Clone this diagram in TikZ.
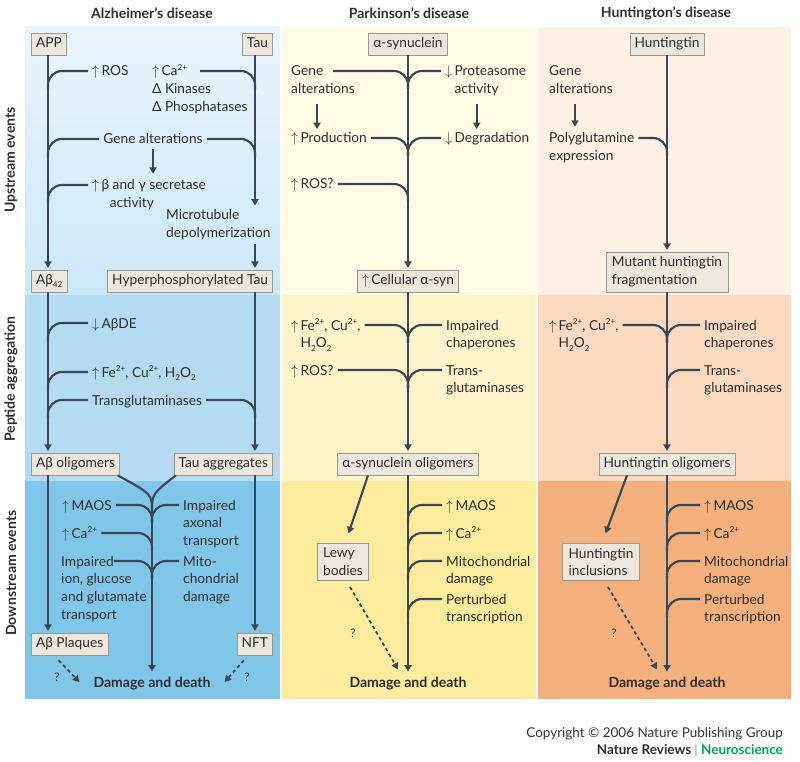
\documentclass[tikz,border=0pt]{standalone}
\usepackage{fontspec}
\setmainfont{Lato}
\usetikzlibrary{arrows.meta,calc,positioning}
\definecolor{inkline}{HTML}{3A4856}
\definecolor{inktext}{HTML}{2E2E2E}
\definecolor{boxfill}{HTML}{ECE7DE}
\definecolor{boxedge}{HTML}{9C978F}
\definecolor{adtop}{HTML}{EAF4FB}
\definecolor{adbot}{HTML}{CDE7F6}
\definecolor{adpep}{HTML}{B4DBF0}
\definecolor{addown}{HTML}{80C6E8}
\definecolor{pdup}{HTML}{FFFBE6}
\definecolor{pdpep}{HTML}{FEF4CA}
\definecolor{pddown}{HTML}{FBEB9C}
\definecolor{hdup}{HTML}{FDF0E5}
\definecolor{hdpep}{HTML}{FAD9C0}
\definecolor{hddown}{HTML}{F4B07C}
\definecolor{nrgreen}{HTML}{00A15B}
\newcommand{\upar}{$\uparrow$\,}
\newcommand{\dnar}{$\downarrow$\,}
\newcommand{\sps}[1]{\raisebox{0.8ex}{\fontsize{7}{7}\selectfont #1}}
\newcommand{\sbs}[1]{\raisebox{-0.45ex}{\fontsize{7}{7}\selectfont #1}}
\newcommand{\cat}{Ca\sps{2+}}
\newcommand{\feions}{Fe\sps{2+}, Cu\sps{2+},}
\newcommand{\hoo}{H\sbs{2}O\sbs{2}}
% stacked lines, baseline on the first one
\newcommand{\lns}[1]{\begin{tabular}[t]{@{}l@{}}#1\end{tabular}}
% side branches that bend down into a main line
\newcommand{\brW}[2]{\draw[br] ($(#1.base west)+(-4,-5)$) coordinate (bs) -| ($(#2 |- bs)+(0,18)$);}
\newcommand{\brE}[2]{\draw[br] ($(#1.base east)+(4,-5)$) coordinate (bs) -| ($(#2 |- bs)+(0,18)$);}
\newcommand{\brX}[3]{\draw[br] ($(#1.base west)+(#2,-5)$) coordinate (bs) -| ($(#3 |- bs)+(0,18)$);}

\begin{document}
\begin{tikzpicture}[x=0.03cm,y=-0.03cm,
  every node/.style={font=\fontsize{11.7}{15.3}\selectfont,text=inktext},
  lbl/.style={anchor=base west,inner sep=0pt},
  box/.style={draw=boxedge,fill=boxfill,line width=0.6pt,inner xsep=4pt,inner ysep=0pt,text height=9pt,text depth=3pt,minimum height=0.66cm},
  box2/.style={draw=boxedge,fill=boxfill,line width=0.6pt,inner xsep=5pt,inner ysep=4pt,align=left},
  hd/.style={font=\fontsize{12}{14}\selectfont\bfseries},
  dd/.style={font=\fontsize{12}{14}\selectfont\bfseries},
  qm/.style={font=\fontsize{10}{12}\selectfont},
  ln/.style={draw=inkline,line width=1.8pt},
  arr/.style={ln,-{Triangle[length=5.5pt,width=6pt]},shorten >=1.5pt},
  varr/.style={arr,shorten <=4pt,shorten >=3pt},
  br/.style={ln,rounded corners=0.42cm},
  dsh/.style={ln,line width=1.5pt,dash pattern=on 3pt off 2.5pt,-{Triangle[length=5.5pt,width=6pt]}}]
\useasboundingbox (0,0) rectangle (800,762);
% panels
\shade[top color=adtop,bottom color=adbot] (25,27) rectangle (280,295);
\fill[adpep] (25,295) rectangle (280,481);
\fill[addown] (25,481) rectangle (280,699);
\fill[pdup] (282,27) rectangle (536,295);
\fill[pdpep] (282,295) rectangle (536,481);
\fill[pddown] (282,481) rectangle (536,699);
\fill[hdup] (538,27) rectangle (791,295);
\fill[hdpep] (538,295) rectangle (791,481);
\fill[hddown] (538,481) rectangle (791,699);
% main lines
\coordinate (adL) at (48,0);
\coordinate (adR) at (255,0);
\coordinate (adM) at (152,0);
\coordinate (pdM) at (408,0);
\coordinate (hdM) at (667,0);
% headings
\node[hd] (hAD) at (152,13) {Alzheimer’s disease};
\node[hd] (hPD) at (409,13) {Parkinson’s disease};
\node[hd] (hHD) at (666,13) {Huntington’s disease};
\node[hd,rotate=90] (rUp) at (11,160) {Upstream events};
\node[hd,rotate=90] (rPep) at (11,379) {Peptide aggregation};
\node[hd,rotate=90] (rDown) at (11,573) {Downstream events};

% Alzheimer's
\node[box,anchor=west] (app) at (31,44) {APP};
\node[box,anchor=east] (tau) at (273,44) {Tau};
\node[lbl] (aros) at (92,76) {\upar ROS};
\node[lbl] (acal) at (152,76) {\lns{\upar \cat\\Δ Kinases\\Δ Phosphatases}};
\node[lbl,anchor=base] (agene) at (153,144) {Gene alterations};
\node[lbl] (asec) at (92,190) {\lns{\upar β and γ secretase\\\hspace{15pt}activity}};
\node[lbl] (amt) at (166,220) {\lns{Microtubule\\depolymerization}};
\node[box,anchor=west] (ab42) at (31,281) {Aβ\sbs{42}};
\node[box,anchor=east] (ptau) at (273,281) {Hyperphosphorylated Tau};
\node[lbl] (aade) at (92,328) {\dnar AβDE};
\node[lbl] (afe) at (92,377) {\upar \feions\ \hoo};
\node[lbl] (atg) at (92,405) {Transglutaminases};
\node[box,anchor=west] (aoli) at (31,464) {Aβ oligomers};
\node[box,anchor=east] (tagg) at (273,464) {Tau aggregates};
\node[lbl] (amaos) at (62,510) {\upar MAOS};
\node[lbl] (aaxon) at (183,510) {\lns{Impaired\\axonal\\transport}};
\node[lbl] (aca) at (62,538) {\upar \cat};
\node[lbl] (aion) at (61,566) {\lns{Impaired\\ion, glucose\\and glutamate\\transport}};
\node[lbl] (amito) at (183,566) {\lns{Mito-\\chondrial\\damage}};
\node[box,anchor=west] (plaq) at (31,644) {Aβ Plaques};
\node[box,anchor=east] (nft) at (273,644) {NFT};
\node[dd] (add) at (152,684) {Damage and death};
\node[qm] (aq1) at (57,677) {?};
\node[qm] (aq2) at (247,677) {?};

\draw[arr] (app.south -| adL) -- (ab42.north -| adL);
\draw[arr] (tau.south -| adR) -- (amt.north -| adR);
\draw[arr] (amt.south -| adR) -- (ptau.north -| adR);
\brW{aros}{adL}
\brX{acal}{48}{adR}
\brW{agene}{adL}
\brE{agene}{adR}
\draw[varr] (agene.south) -- (agene.south |- asec.north);
\brW{asec}{adL}
\draw[arr] (ab42.south -| adL) -- (aoli.north -| adL);
\draw[arr] (ptau.south -| adR) -- (tagg.north -| adR);
\brW{aade}{adL}
\brW{afe}{adL}
\brW{atg}{adL}
\brE{atg}{adR}
\draw[arr] (aoli.south -| adL) -- (plaq.north -| adL);
\draw[arr] (tagg.south -| adR) -- (nft.north -| adR);
\coordinate (ayc) at (152,494);
\coordinate (ay) at (152,512);
\draw[ln] ([xshift=-2pt]aoli.south east) .. controls (ayc) .. (ay);
\draw[ln] ([xshift=2pt]tagg.south west) .. controls (ayc) .. (ay);
\draw[arr] (ay) -- (add.north);
\brE{amaos}{adM}
\brW{aaxon}{adM}
\brE{aca}{adM}
\brX{aion}{53}{adM}
\brW{amito}{adM}
\draw[dsh] ($(plaq.south)+(-11,5)$) -- ($(add.west)+(-10,-2)$);
\draw[dsh] ($(nft.south)+(-11,5)$) -- ($(add.east)+(10,-2)$);

% Parkinson's
\node[box] (asyn) at (408,44) {α-synuclein};
\node[lbl] (pgene) at (291,76) {\lns{Gene\\alterations}};
\node[lbl] (pprot) at (445,76) {\lns{\dnar Proteasome\\\phantom{\dnar}activity}};
\node[lbl] (pprod) at (291,143) {\upar Production};
\node[lbl] (pdeg) at (445,143) {\dnar Degradation};
\node[lbl] (pros) at (291,189) {\upar ROS?};
\node[box] (csyn) at (408,281) {\upar Cellular α-syn};
\node[lbl] (pfe) at (291,330) {\lns{\upar \feions\\\phantom{\upar}\hoo}};
\node[lbl] (pchap) at (446,330) {\lns{Impaired\\chaperones}};
\node[lbl] (pros2) at (291,375) {\upar ROS?};
\node[lbl] (ptg) at (446,375) {\lns{Trans-\\glutaminases}};
\node[box] (soli) at (408,464) {α-synuclein oligomers};
\node[box2] (lewy) at (343,562) {Lewy\\bodies};
\node[lbl] (pmaos) at (446,510) {\upar MAOS};
\node[lbl] (pca) at (446,538) {\upar \cat};
\node[lbl] (pmito) at (446,566) {\lns{Mitochondrial\\damage}};
\node[lbl] (ppert) at (446,604) {\lns{Perturbed\\transcription}};
\node[dd] (pdd) at (408,684) {Damage and death};
\node[qm] (pq) at (353,633) {?};

\draw[arr] (asyn.south) -- (csyn.north);
\brX{pgene}{42}{pdM}
\brW{pprot}{pdM}
\draw[varr] ($(pgene.south)+(-6,0)$) coordinate (pg) -- (pg |- pprod.north);
\draw[varr] ($(pprot.south)+(-9,0)$) coordinate (pp) -- (pp |- pdeg.north);
\brE{pprod}{pdM}
\brW{pdeg}{pdM}
\brE{pros}{pdM}
\draw[arr] (csyn.south) -- (soli.north);
\brE{pfe}{pdM}
\brW{pchap}{pdM}
\brE{pros2}{pdM}
\brW{ptg}{pdM}
\draw[arr] (soli.south) -- (pdd.north);
\draw[arr] ($(soli.south)+(-40,0)$) -- ($(lewy.north)+(5,-8)$);
\draw[dsh] ($(lewy.south)+(7,6)$) -- ($(pdd.north)+(-10,-4)$);
\brW{pmaos}{pdM}
\brW{pca}{pdM}
\brW{pmito}{pdM}
\brW{ppert}{pdM}

% Huntington's
\node[box] (hunt) at (667,44) {Huntingtin};
\node[lbl] (hgene) at (549,76) {\lns{Gene\\alterations}};
\node[lbl] (hpoly) at (549,143) {\lns{Polyglutamine\\expression}};
\node[box2] (mhf) at (667,272) {Mutant huntingtin\\fragmentation};
\node[lbl] (hfe) at (549,330) {\lns{\upar \feions\\\phantom{\upar}\hoo}};
\node[lbl] (hchap) at (704,330) {\lns{Impaired\\chaperones}};
\node[lbl] (htg) at (704,375) {\lns{Trans-\\glutaminases}};
\node[box] (holi) at (667,464) {Huntingtin oligomers};
\node[box2] (hinc) at (601,562) {Huntingtin\\inclusions};
\node[lbl] (hmaos) at (704,510) {\upar MAOS};
\node[lbl] (hca) at (704,538) {\upar \cat};
\node[lbl] (hmito) at (704,566) {\lns{Mitochondrial\\damage}};
\node[lbl] (hpert) at (704,604) {\lns{Perturbed\\transcription}};
\node[dd] (hdd) at (667,684) {Damage and death};
\node[qm] (hq) at (614,633) {?};

\draw[arr] (hunt.south) -- (mhf.north);
\draw[varr] ($(hgene.south)+(-6,0)$) coordinate (hg) -- (hg |- hpoly.north);
\brE{hpoly}{hdM}
\draw[arr] (mhf.south) -- (holi.north);
\brE{hfe}{hdM}
\brW{hchap}{hdM}
\brW{htg}{hdM}
\draw[arr] (holi.south) -- (hdd.north);
\draw[arr] ($(holi.south)+(-40,0)$) -- ($(hinc.north)+(4,-8)$);
\draw[dsh] ($(hinc.south)+(7,6)$) -- ($(hdd.north)+(-10,-4)$);
\brW{hmaos}{hdM}
\brW{hca}{hdM}
\brW{hmito}{hdM}
\brW{hpert}{hdM}

% credit line
\node[anchor=base east,font=\fontsize{11.5}{14}\selectfont,text=black!80] (copy) at (787,737) {Copyright © 2006 Nature Publishing Group};
\node[anchor=base east,font=\fontsize{11.5}{14}\selectfont\bfseries] (nrn) at (787,754) {Nature Reviews {\mdseries\color{black!40}|} \textcolor{nrgreen}{Neuroscience}};
\end{tikzpicture}
\end{document}
